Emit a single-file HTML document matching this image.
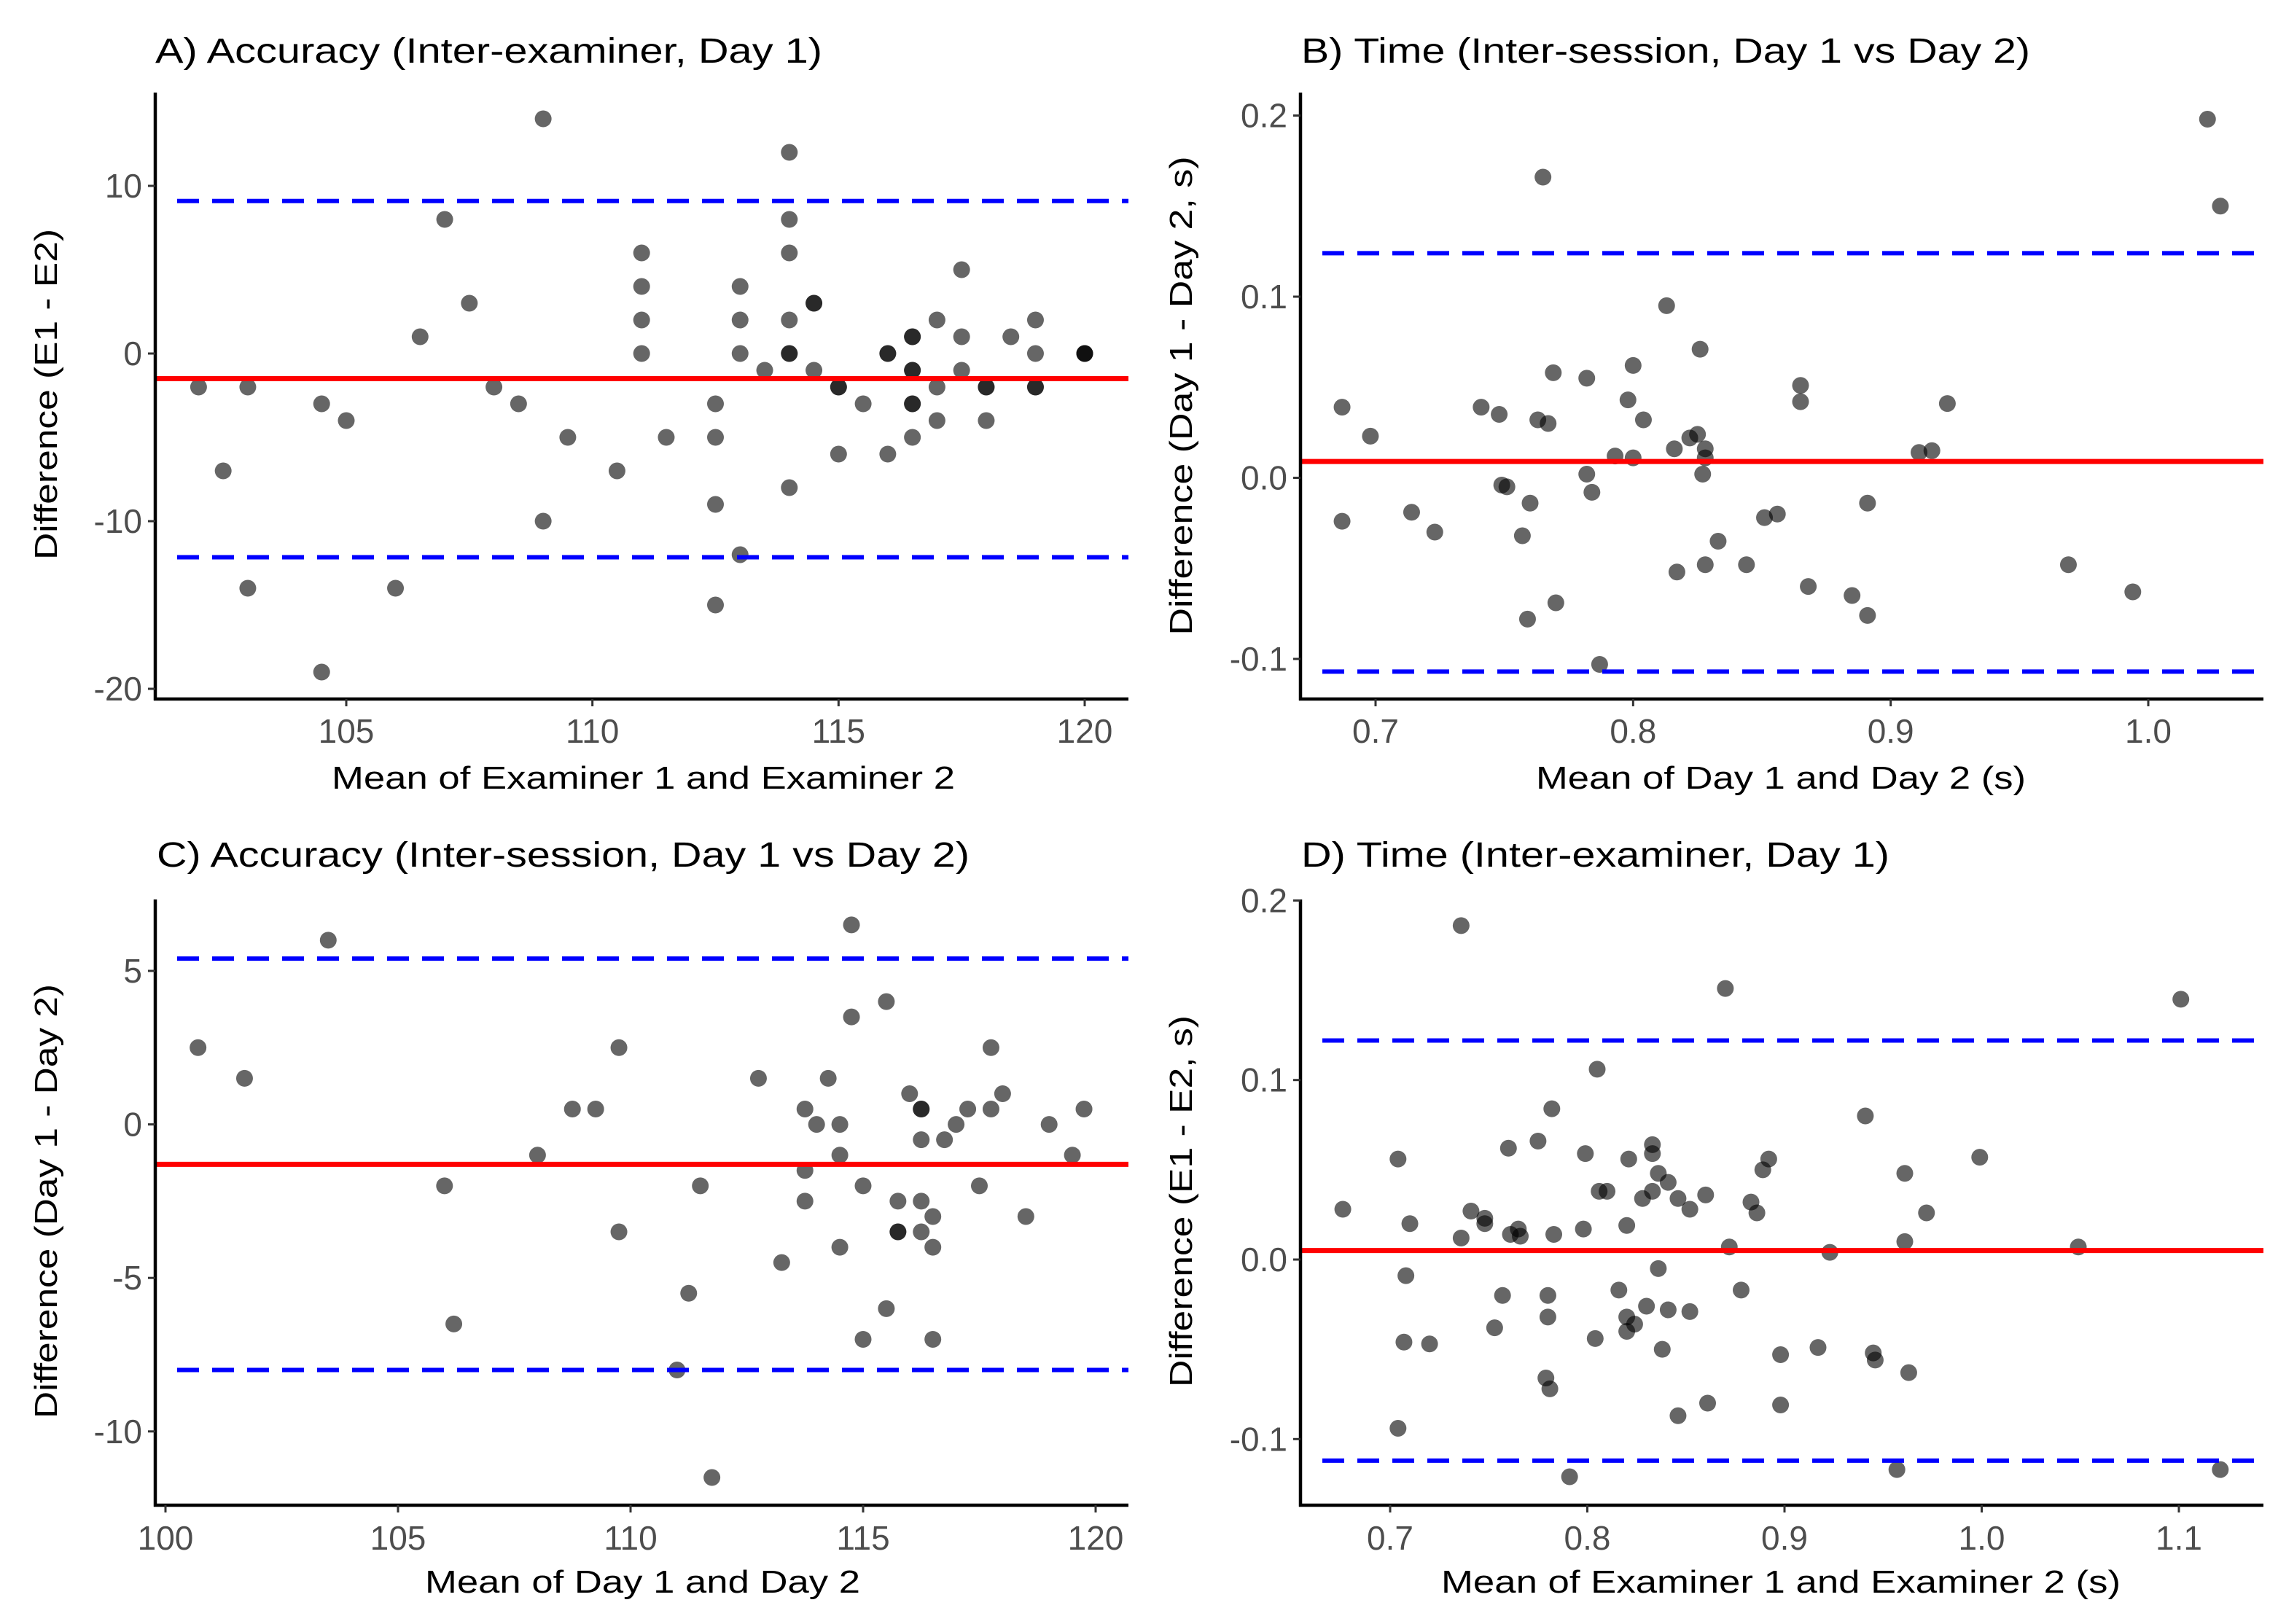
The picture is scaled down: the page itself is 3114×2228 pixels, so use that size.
<!DOCTYPE html>
<html><head><meta charset="utf-8"><style>
html,body{margin:0;padding:0;background:#fff}
svg{display:block}
text{font-family:"Liberation Sans",Arial,sans-serif}
</style></head><body>
<svg id="chart" width="3114" height="2228" viewBox="0 0 3114 2228" xmlns="http://www.w3.org/2000/svg"></svg>
<script>
// Panel A data
const aMean=[102,102.5,103,103,104.5,104.5,105,106,106.5,107,107.5,108,108.5,109,109,109.5,110.5,111,111,111,111,111.5,112.5,112.5,112.5,112.5,113,113,113,113,113.5,114,114,114,114,114,114,114,114.5,114.5,114.5,115,115,115,115.5,116,116,116,116.5,116.5,116.5,116.5,116.5,116.5,116.5,117,117,117,117.5,117.5,117.5,118,118,118,118.5,119,119,119,119,120,120,120];
const aDiff=[-2,-7,-2,-14,-3,-19,-4,-14,1,8,3,-2,-3,14,-10,-5,-7,6,4,2,0,-5,-3,-5,-9,-15,4,2,0,-12,-1,12,8,6,2,0,0,-8,3,-1,3,-2,-2,-6,-3,0,0,-6,1,1,-1,-1,-3,-3,-5,2,-2,-4,5,1,-1,-2,-2,-4,1,2,0,-2,-2,0,0,0];
const aLines=[-1.5,9.1,-12.15];
const aXTicks=[105,110,115,120];
const aYTicks=[10,0,-10,-20];
// Panel B data
const bMean=[0.687,0.687,0.698,0.714,0.723,0.741,0.748,0.749,0.751,0.757,0.760,0.759,0.763,0.765,0.767,0.769,0.770,0.782,0.782,0.784,0.787,0.793,0.798,0.800,0.800,0.804,0.813,0.816,0.817,0.822,0.825,0.826,0.828,0.827,0.828,0.828,0.833,0.844,0.851,0.856,0.865,0.865,0.868,0.885,0.891,0.891,0.911,0.916,0.922,0.969,0.994,1.023,1.028];
const bDiff=[0.039,-0.024,0.023,-0.019,-0.030,0.039,0.035,-0.004,-0.005,-0.032,-0.014,-0.078,0.032,0.166,0.030,0.058,-0.069,0.055,0.002,-0.008,-0.103,0.012,0.043,0.062,0.011,0.032,0.095,0.016,-0.052,0.022,0.024,0.071,0.016,0.002,-0.048,0.011,-0.035,-0.048,-0.022,-0.020,0.051,0.042,-0.060,-0.065,-0.014,-0.076,0.014,0.015,0.041,-0.048,-0.063,0.198,0.150];
const bLines=[0.009,0.124,-0.107];
const bXTicks=[0.7,0.8,0.9,1.0];
const bYTicks=[0.2,0.1,0.0,-0.1];
// Panel C data
const cMean=[100.7,101.7,103.5,106,106.2,108,108.75,109.25,109.75,109.75,111,111.25,111.5,111.75,112.75,113.25,113.75,113.75,113.75,114,114.25,114.5,114.5,114.5,114.75,114.75,115,115,115.5,115.5,115.75,115.75,115.75,116,116.25,116.25,116.25,116.25,116.25,116.5,116.5,116.5,116.75,117,117.25,117.5,117.75,117.75,118,118.5,119,119.5,119.75];
const cDiff=[2.5,1.5,6,-2,-6.5,-1,0.5,0.5,2.5,-3.5,-8,-5.5,-2,-11.5,1.5,-4.5,0.5,-1.5,-2.5,0,1.5,0,-1,-4,6.5,3.5,-2,-7,4,-6,-2.5,-3.5,-3.5,1,0.5,0.5,-0.5,-2.5,-3.5,-3,-4,-7,-0.5,0,0.5,-2,2.5,0.5,1,-3,0,-1,0.5];
const cLines=[-1.3,5.4,-8.0];
const cXTicks=[100,105,110,115,120];
const cYTicks=[5,0,-5,-10];
// Panel D data
const dMean=[0.676,0.704,0.704,0.707,0.708,0.710,0.720,0.736,0.736,0.741,0.748,0.748,0.753,0.757,0.760,0.761,0.765,0.766,0.775,0.780,0.780,0.779,0.781,0.782,0.783,0.791,0.798,0.799,0.804,0.805,0.806,0.810,0.816,0.820,0.820,0.820,0.821,0.824,0.828,0.830,0.833,0.833,0.833,0.836,0.836,0.838,0.841,0.841,0.846,0.846,0.852,0.852,0.860,0.861,0.870,0.872,0.878,0.883,0.886,0.889,0.892,0.898,0.898,0.917,0.923,0.941,0.945,0.946,0.957,0.961,0.961,0.963,0.972,0.999,1.049,1.101,1.121];
const dDiff=[0.028,0.056,-0.094,-0.046,-0.009,0.020,-0.047,0.186,0.012,0.027,0.023,0.020,-0.038,-0.020,0.062,0.014,0.017,0.013,0.066,-0.020,-0.032,-0.066,-0.072,0.084,0.014,-0.121,0.017,0.059,-0.044,0.106,0.038,0.038,-0.017,0.019,-0.032,-0.040,0.056,-0.036,0.034,-0.026,0.064,0.059,0.038,0.048,-0.005,-0.050,0.043,-0.028,0.034,-0.087,0.028,-0.029,0.036,-0.080,0.151,0.007,-0.017,0.032,0.026,0.050,0.056,-0.053,-0.081,-0.049,0.004,0.080,-0.052,-0.056,-0.117,0.010,0.048,-0.063,0.026,0.057,0.007,0.145,-0.117];
const dLines=[0.005,0.122,-0.112];
const dXTicks=[0.7,0.8,0.9,1.0,1.1];
const dYTicks=[0.2,0.1,0.0,-0.1];

const NS="http://www.w3.org/2000/svg";
const svg=document.getElementById('chart');
function mk(tag,attrs,parent){const e=document.createElementNS(NS,tag);for(const k in attrs)e.setAttribute(k,attrs[k]);(parent||svg).appendChild(e);return e;}
function lin(d0,d1,r0,r1){return v=>r0+(v-d0)*(r1-r0)/(d1-d0);}

function panel(p){
  const g=mk('g',{});
  
  
  const sx=lin(p.xd[0],p.xd[1],p.xr[0],p.xr[1]);
  const sy=lin(p.yd[0],p.yd[1],p.yr[0],p.yr[1]);
  p.mean.forEach((m,i)=>{
    const c=mk('circle',{cx:sx(m),cy:sy(p.diff[i]),r:11.5,fill:'#000','fill-opacity':0.6},g);
    
    
  });
  const bias=mk('line',{x1:p.box[0]+2,x2:p.box[2],y1:sy(p.lines[0]),y2:sy(p.lines[0]),stroke:'#ff0000','stroke-width':7},g);
  
  
  [1,2].forEach(k=>{
    const l=mk('line',{x1:p.box[0]+30,x2:p.box[2],y1:sy(p.lines[k]),y2:sy(p.lines[k]),stroke:'#0000ff','stroke-width':6,'stroke-dasharray':'30 18'},g);
    
    
  });
  const ya=mk('line',{x1:p.box[0],x2:p.box[0],y1:p.box[1],y2:p.box[3]+2,stroke:'#000','stroke-width':4.5},g);
  
  
  const xa=mk('line',{x1:p.box[0]-2,x2:p.box[2],y1:p.box[3],y2:p.box[3],stroke:'#000','stroke-width':4.5},g);
  
  
  p.xt.forEach(t=>{
    const x=sx(t);
    mk('line',{x1:x,x2:x,y1:p.box[3],y2:p.box[3]+10,stroke:'#333','stroke-width':3},g);
    const tx=mk('text',{x:x,y:p.xty+2,'text-anchor':'middle','font-size':46,fill:'#4d4d4d'},g);
    tx.textContent=p.fmt(t);
    
    
  });
  p.yt.forEach(t=>{
    const y=sy(t);
    mk('line',{x1:p.box[0]-10,x2:p.box[0],y1:y,y2:y,stroke:'#333','stroke-width':3},g);
    const tx=mk('text',{x:p.box[0]-18,y:y+16,'text-anchor':'end','font-size':46,fill:'#4d4d4d'},g);
    tx.textContent=p.fmt(t);
    
    
  });
  const ti=mk('text',{x:p.title[1],y:p.title[2],'font-size':48,fill:'#000',textLength:p.title[3],lengthAdjust:'spacingAndGlyphs'},g);
  ti.textContent=p.title[0];
  
  
  const xt=mk('text',{x:p.xtitle[1],y:p.xtitle[2],'font-size':44,fill:'#000',textLength:p.xtitle[3],lengthAdjust:'spacingAndGlyphs'},g);
  xt.textContent=p.xtitle[0];
  
  
  const yt=mk('text',{x:0,y:0,'font-size':44,fill:'#000','text-anchor':'middle',textLength:p.ytitle[3],lengthAdjust:'spacingAndGlyphs',transform:`translate(${p.ytitle[1]},${p.ytitle[2]}) rotate(-90)`},g);
  yt.textContent=p.ytitle[0];
  
  
}
const f0=v=>String(v);
const f1=v=>v.toFixed(1);
panel({id:'a',mean:aMean,diff:aDiff,lines:aLines,xt:aXTicks,yt:aYTicks,fmt:f0,
  xd:[105,120],xr:[475,1488],yd:[0,10],yr:[485,255],box:[213,127,1548,959],xty:1017,
  title:['A) Accuracy (Inter-examiner, Day 1)',213,86,915],xtitle:['Mean of Examiner 1 and Examiner 2',455,1082,855],ytitle:['Difference (E1 - E2)',78,541,454]});
panel({id:'b',mean:bMean,diff:bDiff,lines:bLines,xt:bXTicks,yt:bYTicks,fmt:f1,
  xd:[0.7,1.0],xr:[1887,2947],yd:[0,0.2],yr:[655.5,158.5],box:[1784,127,3105,959],xty:1017,
  title:['B) Time (Inter-session, Day 1 vs Day 2)',1785,86,1000],xtitle:['Mean of Day 1 and Day 2 (s)',2107,1082,672],ytitle:['Difference (Day 1 - Day 2, s)',1635,543,657]});
panel({id:'c',mean:cMean,diff:cDiff,lines:cLines,xt:cXTicks,yt:cYTicks,fmt:f0,
  xd:[100,120],xr:[227,1503],yd:[0,5],yr:[1542.6,1332],box:[213,1234,1548,2065],xty:2124,
  title:['C) Accuracy (Inter-session, Day 1 vs Day 2)',215,1189,1115],xtitle:['Mean of Day 1 and Day 2',583,2185,597],ytitle:['Difference (Day 1 - Day 2)',78,1648,596]});
panel({id:'d',mean:dMean,diff:dDiff,lines:dLines,xt:dXTicks,yt:dYTicks,fmt:f1,
  xd:[0.7,1.1],xr:[1907,2989],yd:[0,0.2],yr:[1728,1235.4],box:[1784,1234,3105,2065],xty:2124,
  title:['D) Time (Inter-examiner, Day 1)',1785,1189,807],xtitle:['Mean of Examiner 1 and Examiner 2 (s)',1977,2185,932],ytitle:['Difference (E1 - E2, s)',1635,1648,510]});
</script>
</body></html>
